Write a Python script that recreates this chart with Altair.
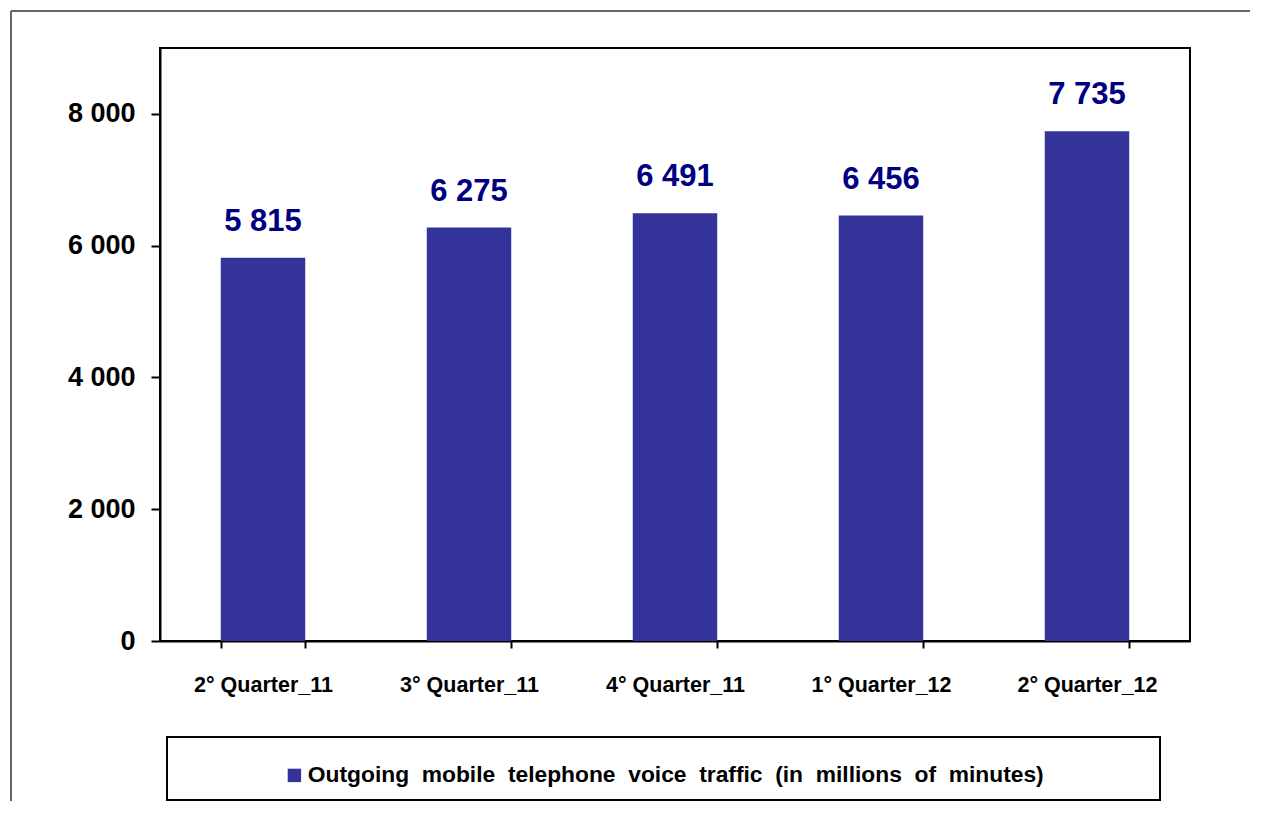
import altair as alt
import pandas as pd

quarters = ["2° Quarter_11", "3° Quarter_11", "4° Quarter_11", "1° Quarter_12", "2° Quarter_12"]
traffic = [5815, 6275, 6491, 6456, 7735]
series_name = "Outgoing mobile telephone voice traffic (in millions of minutes)"
y_ticks = [0, 2000, 4000, 6000, 8000]

FONT = "Liberation Sans"

df = pd.DataFrame({
    "quarter": quarters,
    "traffic": traffic,
    "series": [series_name] * len(quarters),
    "label": [f"{v:,}".replace(",", " ") for v in traffic],
})
dummy = pd.DataFrame({"d": [0]})

x_enc = alt.X(
    "quarter:N",
    sort=quarters,
    scale=alt.Scale(paddingInner=0.59, paddingOuter=0.295),
    axis=alt.Axis(
        title=None, labelAngle=0, tickBand="extent", tickSize=7, tickWidth=2,
        tickColor="black", domainColor="black", domainWidth=2,
        labelFont=FONT, labelFontSize=21.5, labelFontWeight="bold", labelColor="black",
        labelPadding=26,
    ),
)
y_enc = alt.Y(
    "traffic:Q",
    scale=alt.Scale(domain=[0, 9000], nice=False),
    axis=alt.Axis(
        title=None, values=y_ticks, tickSize=9, tickWidth=2, tickColor="black",
        domainColor="black", domainWidth=2, grid=False,
        labelFont=FONT, labelFontSize=27, labelFontWeight="bold", labelColor="black",
        labelPadding=16,
        labelExpr="replace(format(datum.value, ',d'), ',', ' ')",
    ),
)

frame_top = alt.Chart(dummy).mark_rule(color="#666666", strokeWidth=2).encode(
    x=alt.value(-149), x2=alt.value(1100), y=alt.value(-37)
)
frame_left = alt.Chart(dummy).mark_rule(color="#666666", strokeWidth=2).encode(
    x=alt.value(-149), y=alt.value(-37), y2=alt.value(760)
)
legend_box = alt.Chart(dummy).mark_rect(fill="white", stroke="black", strokeWidth=2).encode(
    x=alt.value(7), x2=alt.value(1000), y=alt.value(689), y2=alt.value(752)
)

bars = alt.Chart(df).mark_bar().encode(
    x=x_enc,
    y=y_enc,
    color=alt.Color(
        "series:N",
        scale=alt.Scale(range=["#333399"]),
        legend=alt.Legend(
            title=None, orient="none", legendX=123, legendY=716,
            symbolType="square", symbolSize=180, symbolStrokeWidth=0, symbolOpacity=1,
            labelFont=FONT, labelFontSize=22.8, labelFontWeight="bold", labelColor="black",
            labelOffset=2, labelLimit=1000, padding=0,
            labelExpr="replace(datum.label, regexp(' ', 'g'), ' \u00a0')",
        ),
    ),
)

labels = alt.Chart(df).mark_text(
    font=FONT, fontSize=31, fontWeight="bold", color="#000080",
    baseline="alphabetic", dy=-27,
).encode(
    x=alt.X("quarter:N", sort=quarters),
    y=alt.Y("traffic:Q"),
    text="label:N",
)

chart = alt.layer(frame_top, frame_left, legend_box, bars, labels).properties(
    width=1030,
    height=593,
    background="white",
    autosize=alt.AutoSizeParams(type="none"),
    padding={"left": 152, "top": 40, "right": 60, "bottom": 160},
).configure_view(
    stroke="black", strokeWidth=2
)

chart.save("out.html", embed_options={"renderer": "svg", "actions": False})
